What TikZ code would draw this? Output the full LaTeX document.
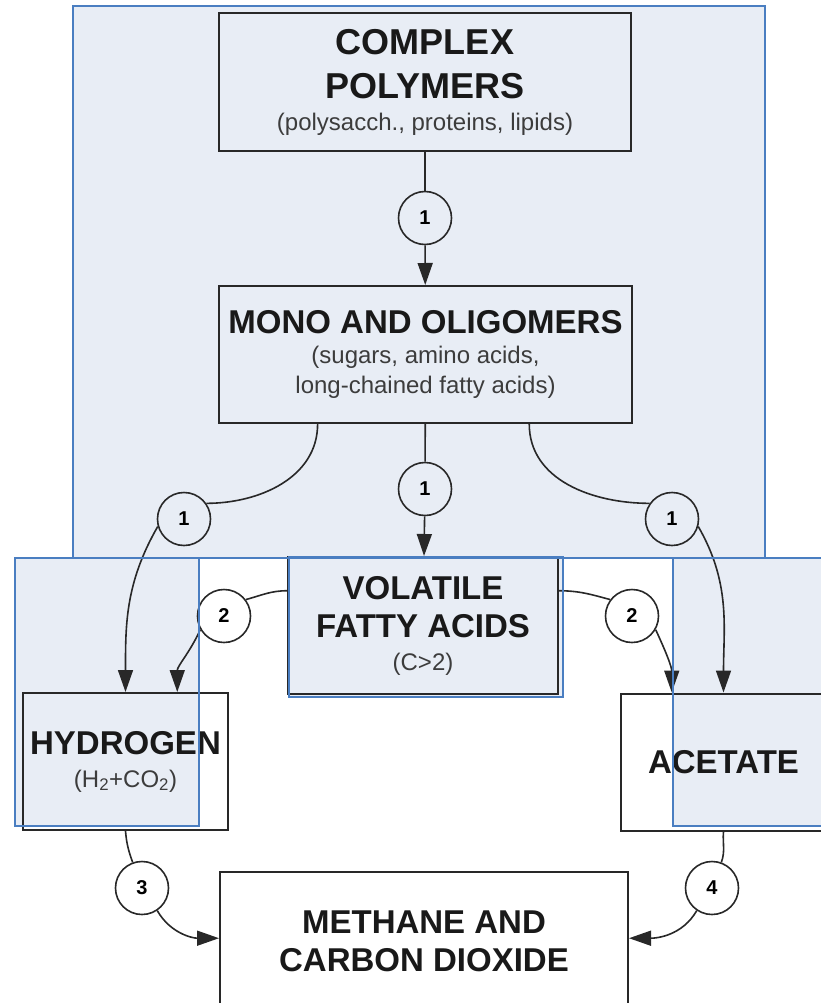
\documentclass[tikz,border=0pt]{standalone}
\usepackage{fontspec}
\setmainfont{Liberation Sans}
\usepackage{xcolor}
\usepackage{tikz}
\usetikzlibrary{arrows.meta,positioning,calc}
\definecolor{panelblue}{RGB}{74,126,193}
\definecolor{panelfill}{RGB}{232,237,245}
\definecolor{boxline}{RGB}{40,40,40}
\definecolor{notegray}{RGB}{60,60,60}
\newcommand{\boxtitle}{\bfseries\fontsize{33}{38}\selectfont\color{black!90}}
\newcommand{\bigtitle}{\bfseries\fontsize{36}{44}\selectfont\color{black!90}}
\newcommand{\boxnote}{\fontsize{24}{30}\selectfont\color{notegray}}
\def\panellist{73/6/765/558, 15/558/199/826, 289/557/563/697, 673/558/830/826}

\begin{document}
\begin{tikzpicture}[x=1pt, y=1pt,
    box/.style={rectangle, draw=boxline, line width=2pt, minimum height=137pt, inner sep=0pt, align=center, font=\boxnote},
    stage/.style={circle, draw=boxline, line width=1.6pt, minimum size=53pt, inner sep=0pt, font=\bfseries\fontsize{20}{24}\selectfont},
    flow/.style={draw=boxline, line width=1.6pt},
    arr/.style={flow, -{Triangle[length=22pt, width=15pt]}}
]

    \path[use as bounding box, clip] (0,0) rectangle (821,-1003);

    \foreach \xa/\ya/\xb/\yb in \panellist
        \fill[panelfill] (\xa,-\ya) rectangle (\xb,-\yb);

    \node[box, minimum width=412pt, minimum height=138pt] (complex) at (425,-82) {{\bigtitle COMPLEX}\\[14pt]{\bigtitle POLYMERS}\\[2pt](polysacch., proteins, lipids)};
    \node[box, minimum width=413pt] (mono) at (425.5,-354.5) {{\boxtitle MONO AND OLIGOMERS}\\(sugars, amino acids,\\long-chained fatty acids)};
    \node[box, minimum width=270pt] (vfa) at (423,-625.5) {{\boxtitle VOLATILE}\\[8pt]{\boxtitle FATTY ACIDS}\\[3pt](C>2)};
    \node[box, minimum width=205pt] (hydrogen) at (125.5,-761.5) {{\boxtitle HYDROGEN}\\[3pt](H\textsubscript{2}+CO\textsubscript{2})};
    \node[box, minimum width=205pt] (acetate) at (723.5,-762) {\boxtitle ACETATE};
    \node[box, minimum width=408pt, minimum height=138pt] (methane) at (424,-941) {{\boxtitle METHANE AND}\\[8pt]{\boxtitle CARBON DIOXIDE}};

    \node[stage] (c1) at (425,-218) {1};
    \node[stage] (cm) at (425,-489) {1};
    \node[stage] (l1) at (184,-519) {1};
    \node[stage] (r1) at (672,-519) {1};
    \node[stage] (l2) at (224,-616) {2};
    \node[stage] (r2) at (632,-616) {2};
    \node[stage] (c3) at (142,-888) {3};
    \node[stage] (c4) at (712,-888) {4};

    \draw[flow] (complex) -- (c1);
    \draw[arr] (c1) -- (mono);

    \draw[flow] (mono) -- (cm);
    \draw[arr] (cm) -- (vfa);

    \draw[flow] ($(mono.south west)!0.24!(mono.south east)$) to[out=-90, in=0] (l1.35);
    \draw[arr] (l1.196) to[out=-120, in=90] (hydrogen.north);

    \draw[flow] ($(mono.south west)!0.75!(mono.south east)$) to[out=-90, in=180] (r1.145);
    \draw[arr] (r1.-16) to[out=-60, in=90] (acetate.north);

    \draw[flow] ($(vfa.north west)!0.25!(vfa.south west)$) to[out=180, in=15] (l2.37);
    \draw[arr] (l2.210) to[out=-115, in=90] ($(hydrogen.north)!0.5!(hydrogen.north east)$);

    \draw[flow] ($(vfa.north east)!0.25!(vfa.south east)$) to[out=0, in=165] (r2.143);
    \draw[arr] (r2.-30) to[out=-65, in=90] ($(acetate.north west)!0.5!(acetate.north)$);

    \draw[flow] (hydrogen.south) to[out=-85, in=110] (c3);
    \draw[arr] (c3.-56) to[out=-60, in=180] ($(methane.north west)!0.48!(methane.south west)$);

    \draw[flow] (acetate.south) to[out=-95, in=70] (c4);
    \draw[arr] (c4.236) to[out=-120, in=0] ($(methane.north east)!0.48!(methane.south east)$);

    \foreach \xa/\ya/\xb/\yb in \panellist
        \draw[panelblue, line width=1.5pt] (\xa,-\ya) rectangle (\xb,-\yb);

\end{tikzpicture}
\end{document}
